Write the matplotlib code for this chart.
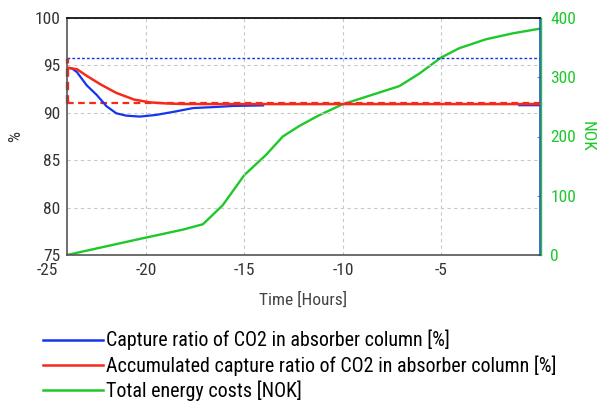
import numpy as np
import matplotlib
matplotlib.use("Agg")
import matplotlib.pyplot as plt
from matplotlib.lines import Line2D
from matplotlib import font_manager

_avail = {f.name for f in font_manager.fontManager.ttflist}
_cands = ['Liberation Sans Narrow', 'Arial Narrow', 'Roboto Condensed', 'Archivo Narrow',
          'Barlow Semi Condensed', 'Asap Condensed']
FONT = next((c for c in _cands if c in _avail), 'Liberation Sans')
plt.rcParams['font.family'] = [FONT, 'Liberation Sans', 'DejaVu Sans']
plt.rcParams['axes.unicode_minus'] = False

# ---- data ----
blue_t = [-24, -23.76, -23.5, -23.0, -22.5, -22.0, -21.5, -21.0, -20.3, -19.5, -18.6, -17.6,
          -16.4, -15.6, -14.05, np.nan, -1.05, 0]
blue_v = [94.75, 94.7, 94.3, 92.9, 91.9, 90.7, 89.95, 89.7, 89.6, 89.77, 90.1, 90.5,
          90.62, 90.72, 90.78, np.nan, 90.8, 90.8]

red_t = [-24, -23.5, -23.0, -22.3, -21.5, -20.6, -19.8, -18.9, -18.1, -16.9, 0]
red_v = [94.75, 94.6, 93.9, 93.0, 92.1, 91.4, 91.1, 90.98, 90.93, 90.92, 90.92]

green_t = [-24, -20.6, -18.1, -17.1, -16.1, -15.0, -13.9, -13.05, -12.2, -11.2, -10.04,
           -8.83, -7.14, -6.13, -5.03, -4.1, -2.75, -1.4, 0]
green_v = [0, 25, 43, 52, 84, 135, 169, 200, 218, 236, 254, 267, 285, 306, 333, 349,
           364, 374, 382]

target_upper = 95.8
target_lower = 91.0
t_start, t_end = -24, 0

x_ticks = [-20, -15, -10, -5]
y_ticks = [75, 80, 85, 90, 95, 100]
y2_ticks = [0, 100, 200, 300, 400]

labels = ["Capture ratio of CO2 in absorber column [%]",
          "Accumulated capture ratio of CO2 in absorber column [%]",
          "Total energy costs [NOK]"]

BLUE = '#1434f0'
RED = '#f52a1a'
GREEN = '#1ec82a'

fig = plt.figure(figsize=(6.03, 4.04), dpi=100)
ax = fig.add_axes([67/603, 1-255/404, (540-67)/603, (255-18)/404])
ax2 = ax.twinx()

ax.set_xlim(t_start, t_end)
ax.set_ylim(75, 100)
ax2.set_ylim(0, 400)

ax.set_xticks(x_ticks)
ax.set_yticks(y_ticks)
ax2.set_yticks(y2_ticks)

ax.grid(True, color='#c8c8c8', linestyle=(0, (3, 3)), linewidth=0.8)

# reference lines
ax.plot([t_start, t_end], [target_upper, target_upper], color=BLUE, lw=1.0,
        linestyle=(0, (2, 1.5)), zorder=2)
ax.plot([t_start, t_end], [target_lower, target_lower], color=RED, lw=1.6,
        linestyle=(0, (3, 2)), zorder=2)
ax.plot([t_start, t_start], [target_lower, target_upper], color=RED, lw=2.4,
        linestyle=(0, (2.5, 1.5)), zorder=2, clip_on=False)

ax.plot(blue_t, blue_v, color=BLUE, lw=1.6, zorder=3)
ax.plot(red_t, red_v, color=RED, lw=1.8, zorder=4)
ax2.plot(green_t, green_v, color=GREEN, lw=1.7)

ax.set_zorder(2)
ax.patch.set_visible(False)
ax2.set_zorder(1)

tick_font = 12.5
ax.tick_params(axis='x', length=0, pad=5.5, labelsize=tick_font, labelcolor='#333333')
ax.tick_params(axis='y', length=0, pad=5, labelsize=tick_font, labelcolor='#333333')
ax2.tick_params(axis='y', direction='in', length=3, color='#888888', pad=6.5,
                labelsize=tick_font, labelcolor=GREEN)

# -25 label at left edge
ax.annotate('-25', xy=(-25, 0), xycoords=('data', 'axes fraction'), xytext=(0, -5.5),
            textcoords='offset points', ha='center', va='top', fontsize=tick_font,
            color='#333333', annotation_clip=False)

for s in ['left', 'bottom']:
    ax.spines[s].set_color('#555555')
    ax.spines[s].set_linewidth(1.2)
ax.spines['top'].set_color('black')
ax.spines['top'].set_linewidth(1.2)
ax.spines['right'].set_color('#2050d0')
ax.spines['right'].set_linewidth(1.2)
for s in ['left', 'bottom', 'top']:
    ax2.spines[s].set_visible(False)
ax2.spines['right'].set_color(GREEN)
ax2.spines['right'].set_linewidth(1.0)
ax2.spines['right'].set_position(('outward', 1))

ax.set_xlabel('Time [Hours]', fontsize=12.5, color='#444444', labelpad=10)
ax.set_ylabel('%', fontsize=12.5, color='#333333', labelpad=8)
ax2.set_ylabel('NOK', fontsize=12.5, color=GREEN, rotation=270, labelpad=13)

handles = [Line2D([], [], color=BLUE, lw=1.8),
           Line2D([], [], color=RED, lw=1.8),
           Line2D([], [], color=GREEN, lw=1.8)]
fig.legend(handles, labels, loc='upper left', bbox_to_anchor=(43/603, 1-330/404),
           frameon=False, fontsize=14.4, handlelength=3.0, handletextpad=0.15,
           labelspacing=0.24, borderaxespad=0, borderpad=0)

fig.savefig('out.png', dpi=100)
